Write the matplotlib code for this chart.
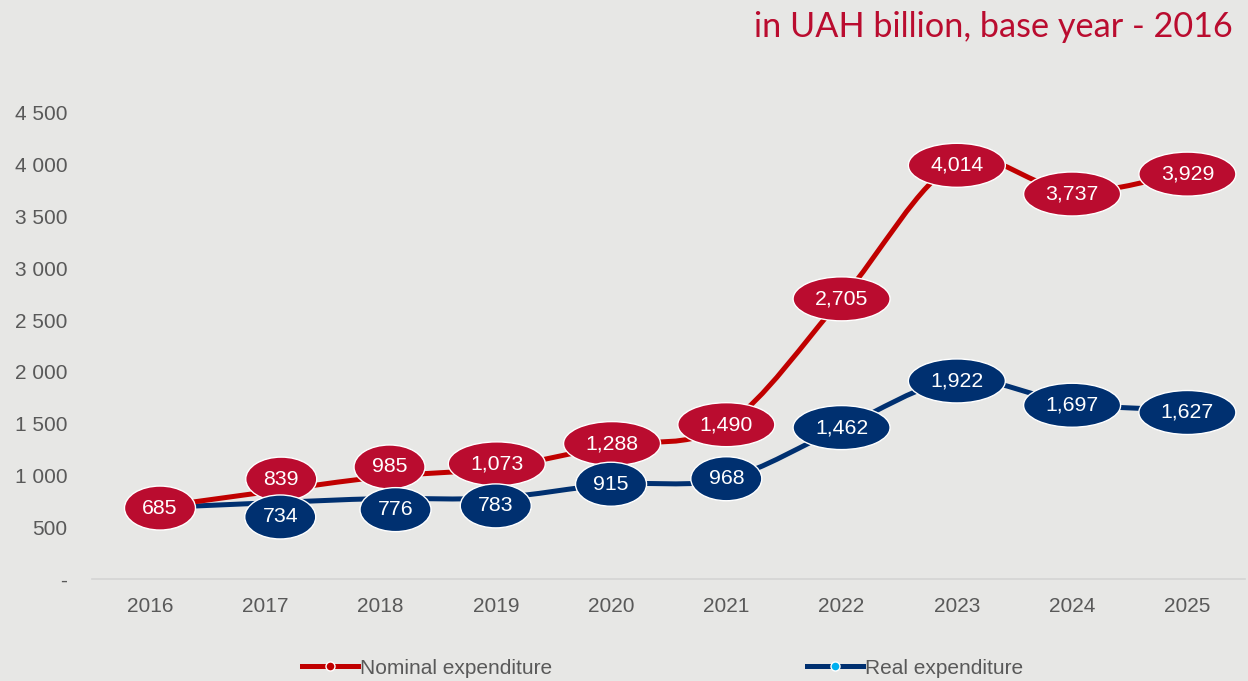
import matplotlib
matplotlib.use('Agg')
import matplotlib.pyplot as plt
from matplotlib.path import Path
from matplotlib.patches import PathPatch, Ellipse
from matplotlib.transforms import ScaledTranslation
from matplotlib.lines import Line2D

years = ['2016', '2017', '2018', '2019', '2020', '2021', '2022', '2023', '2024', '2025']
nominal = [685, 839, 985, 1073, 1288, 1490, 2705, 4014, 3737, 3929]
real = [685, 734, 776, 783, 915, 968, 1462, 1922, 1697, 1627]
nominal_labels = ['685', '839', '985', '1,073', '1,288', '1,490', '2,705', '4,014', '3,737', '3,929']
real_labels = [None, '734', '776', '783', '915', '968', '1,462', '1,922', '1,697', '1,627']
y_ticks = [0, 500, 1000, 1500, 2000, 2500, 3000, 3500, 4000, 4500]
y_tick_labels = ['-', '500', '1 000', '1 500', '2 000', '2 500', '3 000', '3 500', '4 000', '4 500']

# label nudges in pixels (dx, dy), where labels overlap
nominal_shift = [(10, 0), (16, 13), (9, 10), (1, 4), (1, 2), (0, 0), (0, 0), (0, -2), (0, -2), (0, -2)]
real_shift = [(0, 0), (15, -14), (15, -11), (0, -8), (0, 0), (0, 0), (0, 0), (0, -1), (0, -2), (0, -2)]

BG = '#E7E7E5'
RED_LINE = '#C00000'
RED_FILL = '#BA0C2F'
BLUE = '#003070'
GREY = '#595959'

plt.rcParams['font.family'] = ['Liberation Sans', 'DejaVu Sans']

fig = plt.figure(figsize=(12.48, 6.81), dpi=100, facecolor=BG)
ax = fig.add_axes([0.074, 0.1498, 0.9236, 0.6843])
ax.set_facecolor(BG)


def smooth_path(xs, ys):
    # excel-like smoothed line (catmull-rom as bezier)
    n = len(xs)
    verts = [(xs[0], ys[0])]
    codes = [Path.MOVETO]
    for i in range(n - 1):
        a = i - 1 if i > 0 else i
        d = i + 2 if i + 2 < n else i + 1
        c1 = (xs[i] + (xs[i + 1] - xs[a]) / 6, ys[i] + (ys[i + 1] - ys[a]) / 6)
        c2 = (xs[i + 1] - (xs[d] - xs[i]) / 6, ys[i + 1] - (ys[d] - ys[i]) / 6)
        verts += [c1, c2, (xs[i + 1], ys[i + 1])]
        codes += [Path.CURVE4] * 3
    return Path(verts, codes)


x = list(range(len(years)))

ax.add_patch(PathPatch(smooth_path(x, real), facecolor='none', edgecolor=BLUE,
                       lw=3.6, capstyle='round', zorder=2))
ax.add_patch(PathPatch(smooth_path(x, nominal), facecolor='none', edgecolor=RED_LINE,
                       lw=3.6, capstyle='round', zorder=3))
ax.plot(x, real, linestyle='none', marker='o', ms=6.5, mfc='#00B0F0', mec='white', zorder=4)
ax.plot(x, nominal, linestyle='none', marker='o', ms=6.5, mfc=RED_LINE, mec='white', zorder=4)


def add_labels(values, labels, shifts, fill, z):
    for xi, v, lab, (dx, dy) in zip(x, values, labels, shifts):
        if lab is None:
            continue
        w = 71 if len(lab) <= 3 else 97
        tr = fig.dpi_scale_trans + ScaledTranslation(xi, v, ax.transData)
        ax.add_patch(Ellipse((dx / 100, dy / 100), w / 100, 0.44, transform=tr,
                             facecolor=fill, edgecolor='white', lw=1.0,
                             zorder=z, clip_on=False))
        ax.annotate(lab, (xi, v), xytext=(dx * 0.72, dy * 0.72), textcoords='offset points',
                    ha='center', va='center', color='white', fontsize=15.3,
                    zorder=z + 0.1, annotation_clip=False)


add_labels(nominal, nominal_labels, nominal_shift, RED_FILL, 5)
add_labels(real, real_labels, real_shift, BLUE, 6)

ax.set_xlim(-0.5, len(years) - 0.5)
ax.set_ylim(0, 4500)
ax.set_xticks(x)
ax.set_xticklabels(years)
ax.set_yticks(y_ticks)
ax.set_yticklabels(y_tick_labels)
ax.tick_params(axis='both', length=0, labelsize=15, labelcolor=GREY)
ax.tick_params(axis='x', pad=13)
ax.tick_params(axis='y', pad=18)
for side in ['top', 'right', 'left']:
    ax.spines[side].set_visible(False)
ax.spines['bottom'].set_color('#D4D4D4')
ax.spines['bottom'].set_linewidth(1.2)

fig.text(0.988, 0.961, 'in UAH billion, base year - 2016', ha='right', va='center',
         fontsize=24.7, color=RED_FILL, family=['Lato', 'DejaVu Sans'])

handles = [
    Line2D([], [], color=RED_LINE, lw=3.6, marker='o', ms=6.5, mfc=RED_LINE, mec='white'),
    Line2D([], [], color=BLUE, lw=3.6, marker='o', ms=6.5, mfc='#00B0F0', mec='white'),
]
fig.legend(handles, ['Nominal expenditure', 'Real expenditure'], loc='center',
           bbox_to_anchor=(0.531, 0.019), ncol=2, frameon=False, fontsize=15,
           labelcolor=GREY, handlelength=2.7, handletextpad=0.1, columnspacing=12.2,
           numpoints=1)

fig.savefig('out.png', dpi=100, facecolor=BG)
